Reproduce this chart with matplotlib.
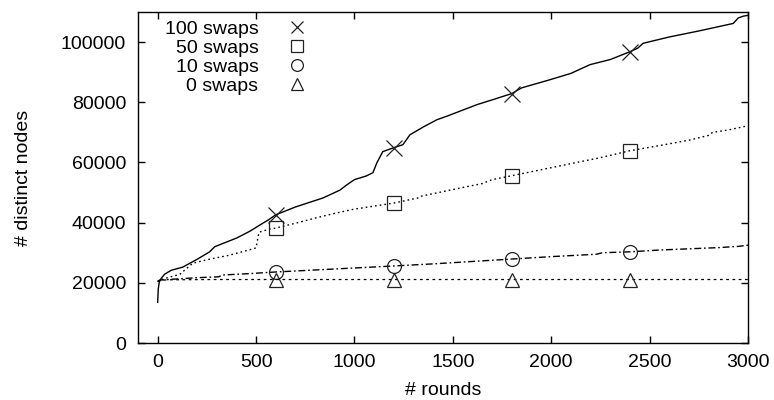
"""Distinct nodes vs rounds for different numbers of swaps (gnuplot-like look)."""
import matplotlib

matplotlib.use("Agg")
import matplotlib.pyplot as plt
import numpy as np

# series values
rounds_100 = [0, 3, 8, 18, 36, 70, 127, 200, 264, 290, 340, 402, 470, 519, 560,
              600, 700, 840, 926, 960, 1000, 1060, 1094, 1114, 1144, 1200, 1246,
              1282, 1350, 1419, 1475, 1622, 1700, 1800, 1850, 1994, 2100, 2197,
              2300, 2400, 2440, 2467, 2600, 2750, 2925, 2950, 2975, 3000]
nodes_100 = [13500, 18000, 20200, 21500, 22900, 24200, 25200, 27800, 30300, 32000,
             33300, 34900, 37200, 39200, 40800, 42600, 45200, 48200, 50800, 52500,
             54300, 55500, 56600, 59900, 63600, 64900, 65900, 69200, 71800, 74200,
             75500, 79200, 80800, 82900, 84800, 87500, 89600, 92500, 94200, 96800,
             98000, 99600, 101700, 103700, 106200, 108000, 108600, 108900]

rounds_50 = [0, 10, 60, 112, 178, 260, 366, 440, 500, 505, 515, 560, 600, 700, 800,
             900, 1000, 1100, 1200, 1330, 1340, 1500, 1650, 1700, 1800, 1950, 2100,
             2250, 2400, 2550, 2700, 2800, 2820, 2900, 3000]
nodes_50 = [20300, 20900, 21900, 22800, 26500, 27800, 29200, 30500, 31600, 33500,
            36800, 37700, 38200, 39800, 41500, 43100, 44500, 45500, 46500, 48300,
            48800, 51000, 53000, 54300, 55600, 57600, 59600, 61600, 63900, 65600,
            67400, 69000, 70000, 70800, 72200]

rounds_10 = [0, 10, 100, 200, 310, 330, 450, 600, 750, 900, 1050, 1200, 1400, 1600,
             1800, 2000, 2230, 2260, 2400, 2550, 2700, 2850, 2950, 3000]
nodes_10 = [20500, 20900, 21300, 21700, 22000, 22600, 23000, 23600, 24100, 24600,
            25100, 25600, 26300, 27100, 27900, 28700, 29500, 30000, 30300, 30900,
            31300, 31700, 32100, 32500]

rounds_0 = [0, 10, 50, 300, 600, 1200, 1800, 2400, 3000]
nodes_0 = [20500, 20800, 21000, 21100, 21100, 21100, 21100, 21100, 21100]

labels = ["100 swaps", "50 swaps", "10 swaps", "0 swaps"]
marker_rounds = [600, 1200, 1800, 2400]

x_ticks = [0, 500, 1000, 1500, 2000, 2500, 3000]
y_ticks = [0, 20000, 40000, 60000, 80000, 100000]

plt.rcParams["font.family"] = ["Liberation Sans", "DejaVu Sans"]
plt.rcParams["font.size"] = 14

fig = plt.figure(figsize=[7.74, 4.0], dpi=100)
ax = fig.add_axes([138 / 774, 57 / 400, 610 / 774, 331 / 400])

series = [
    (rounds_100, nodes_100, "-", "x", 11, 1.0),
    (rounds_50, nodes_50, (0, (1.2, 2.2)), "s", 10, 1.0),
    (rounds_10, nodes_10, (0, (5, 2, 1.2, 2)), "o", 10, 1.0),
    (rounds_0, nodes_0, (0, (2.2, 2.8)), "^", 10, 0.9),
]

for (xs, ys, ls, mk, ms, lw), label in zip(series, labels):
    xs = np.asarray(xs)
    ys = np.asarray(ys)
    # markers only at every 600 rounds, like gnuplot's pointinterval
    idx = list(np.nonzero(np.isin(xs, marker_rounds))[0])
    ax.plot(xs, ys, color="black", linestyle=ls, linewidth=lw)
    ax.plot(xs, ys, linestyle="none", marker=mk, markersize=ms, markevery=idx,
            markerfacecolor="none", markeredgecolor="#222222",
            markeredgewidth=0.9, label=label)

ax.set_xlim(-100, 3000)
ax.set_ylim(0, 110000)
ax.set_xticks(x_ticks)
ax.set_yticks(y_ticks)
ax.tick_params(direction="in", length=5, width=1.0, top=True, right=True)
ax.tick_params(axis="y", pad=8.5)
ax.tick_params(axis="x", pad=8)
for spine in ax.spines.values():
    spine.set_linewidth(1.0)

ax.set_xlabel("# rounds")
ax.xaxis.set_label_coords(0.5, -0.118)
ax.set_ylabel("# distinct nodes")
ax.yaxis.set_label_coords(-0.174, 0.5)

leg = ax.legend(
    loc="upper right",
    bbox_to_anchor=(307 / 774, 1 - 20 / 400),
    bbox_transform=fig.transFigure,
    frameon=False,
    markerfirst=False,
    handlelength=1.0,
    handletextpad=1.5,
    labelspacing=0.08,
    borderpad=0,
    borderaxespad=0,
)
for handle in leg.legend_handles:
    handle.set_markersize(8.5)

plt.savefig("out.png", dpi=100)
plt.close()
